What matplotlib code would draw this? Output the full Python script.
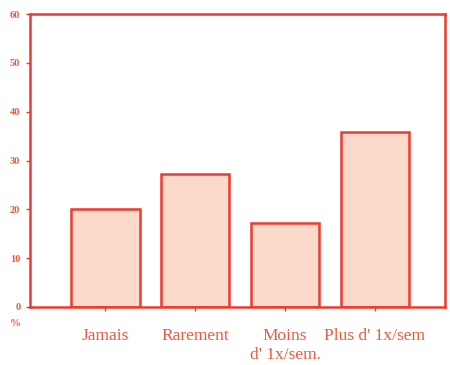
import matplotlib
matplotlib.use("Agg")
import matplotlib.pyplot as plt

categories = ["Jamais", "Rarement", "Moins\nd' 1x/sem.", "Plus d' 1x/sem"]
values = [20, 27.2, 17.3, 35.9]
yticks = [0, 10, 20, 30, 40, 50, 60]

red = "#ec3b2e"
fill = "#fcdacb"
textc = "#ee5a3c"

plt.rcParams['font.family'] = ['Liberation Serif', 'DejaVu Serif']

fig = plt.figure(figsize=(4.5, 3.65), dpi=100)
ax = fig.add_axes([30/450, 1 - 307/365, 415/450, 293/365])

x = range(len(categories))
ax.bar(x, values, width=0.76, color=fill, edgecolor=red, linewidth=1.8)

ax.set_xlim(-0.84, 3.78)
ax.set_ylim(0, 60)
ax.set_yticks(yticks)
ax.set_yticklabels([str(t) for t in yticks], color=textc, fontsize=7.5, fontweight="bold")
ax.set_xticks(list(x))
ax.set_xticklabels(categories, color=textc, fontsize=12.5, linespacing=1.25)

for s in ax.spines.values():
    s.set_color(red)
    s.set_linewidth(1.8)
ax.tick_params(axis="y", colors=red, length=3, width=1, pad=4, labelcolor=textc)
ax.tick_params(axis="x", colors=red, length=3, width=1, pad=12, labelcolor=textc)

fig.text(15/450, 1 - 323/365, "%", color=textc, fontsize=8, fontweight="bold", ha="center", va="center")

fig.savefig("out.png", dpi=100)
